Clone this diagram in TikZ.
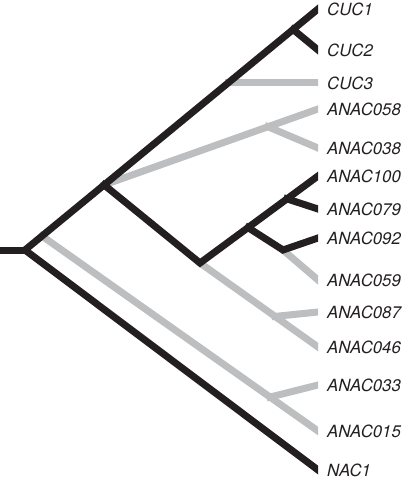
\documentclass[tikz,border=0pt]{standalone}
\usepackage{fontspec}
\newfontfamily\leaffont{TeX Gyre Heros}
\usetikzlibrary{positioning,calc}
\definecolor{treeblack}{HTML}{231F20}
\definecolor{treegrey}{HTML}{BCBEC0}
\tikzset{BRANCH/.style={line width=7pt, line cap=rect, line join=miter}}
\tikzset{BLACKBR/.style={BRANCH, draw=treeblack}}
\tikzset{GREYBR/.style={BRANCH, draw=treegrey}}
\tikzset{LEAF/.style={inner sep=0pt, anchor=west, text=treeblack, font=\leaffont\itshape\fontsize{16.8}{20}\selectfont}}

\begin{document}
\begin{tikzpicture}[x=1pt, y=-1pt]
    \useasboundingbox (0,0) rectangle (403,481);

    \coordinate (t_cuc1) at (318,9);
    \coordinate (t_cuc2) at (318,50);
    \coordinate (t_anac058) at (318,109);
    \coordinate (t_anac038) at (318,148);
    \coordinate (t_anac100) at (318,176);
    \coordinate (t_anac079) at (318,209);
    \coordinate (t_anac092) at (318,238);
    \coordinate (t_anac059) at (318,280);
    \coordinate (t_anac087) at (318,312);
    \coordinate (t_anac046) at (318,347);
    \coordinate (t_anac033) at (318,385);
    \coordinate (t_anac015) at (318,431);
    \coordinate (t_nac1) at (318,470);

    \coordinate (n_stub) at (0,250);
    \coordinate (n_root) at (25,250);
    \coordinate (n_a) at ($(n_root)!0.058!(t_cuc1)$);
    \coordinate (n_b) at ($(n_root)!0.27!(t_cuc1)$);
    \coordinate (n_c) at ($(n_root)!0.693!(t_cuc1)$);
    \coordinate (n_d) at ($(n_root)!0.915!(t_cuc1)$);
    \coordinate (t_cuc3) at (n_c -| t_cuc1);
    \coordinate (n_e) at ($(n_b)!0.766!(t_anac058)$);
    \coordinate (n_f) at (200,263);
    \coordinate (n_g) at ($(n_f)!0.636!(t_anac046)$);
    \coordinate (n_h) at ($(n_f)!0.407!(t_anac100)$);
    \coordinate (n_i) at ($(n_f)!0.737!(t_anac100)$);
    \coordinate (n_j) at (283,250);
    \coordinate (n_k) at ($(n_a)!0.826!(t_anac015)$);

    \begin{scope}
        \clip (0,0) rectangle (318,481);
        \draw[GREYBR] (n_a) -- (t_anac015);
        \draw[GREYBR] (n_k) -- (t_anac033);
        \draw[GREYBR] (n_b) -- (t_anac058);
        \draw[GREYBR] (n_e) -- (t_anac038);
        \draw[GREYBR] (n_c) -- (t_cuc3);
        \draw[GREYBR] (n_f) -- (t_anac046);
        \draw[GREYBR] (n_g) -- (t_anac087);
        \draw[GREYBR] (n_j) -- (t_anac059);

        \draw[BLACKBR] (n_stub) -- (n_root);
        \draw[BLACKBR] (t_cuc1) -- (n_root) -- (t_nac1);
        \draw[BLACKBR] (n_d) -- (t_cuc2);
        \draw[BLACKBR] (n_b) -- (n_f) -- (t_anac100);
        \draw[BLACKBR] (n_i) -- (t_anac079);
        \draw[BLACKBR] (n_h) -- (n_j) -- (t_anac092);
    \end{scope}

    \node[LEAF, right=9pt of t_cuc1] (l_cuc1) {CUC1};
    \node[LEAF, right=9pt of t_cuc2] (l_cuc2) {CUC2};
    \node[LEAF, right=9pt of t_cuc3] (l_cuc3) {CUC3};
    \node[LEAF, right=9pt of t_anac058] (l_anac058) {ANAC058};
    \node[LEAF, right=9pt of t_anac038] (l_anac038) {ANAC038};
    \node[LEAF, right=9pt of t_anac100] (l_anac100) {ANAC100};
    \node[LEAF, right=9pt of t_anac079] (l_anac079) {ANAC079};
    \node[LEAF, right=9pt of t_anac092] (l_anac092) {ANAC092};
    \node[LEAF, right=9pt of t_anac059] (l_anac059) {ANAC059};
    \node[LEAF, right=9pt of t_anac087] (l_anac087) {ANAC087};
    \node[LEAF, right=9pt of t_anac046] (l_anac046) {ANAC046};
    \node[LEAF, right=9pt of t_anac033] (l_anac033) {ANAC033};
    \node[LEAF, right=9pt of t_anac015] (l_anac015) {ANAC015};
    \node[LEAF, right=9pt of t_nac1] (l_nac1) {NAC1};
\end{tikzpicture}
\end{document}
